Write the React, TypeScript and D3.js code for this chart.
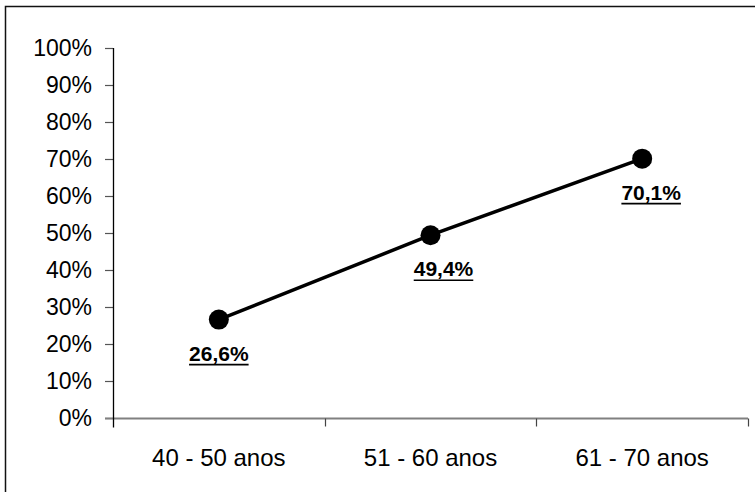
import {useEffect, useRef} from "react"
import * as d3 from "d3"

const categories = ["40 - 50 anos", "51 - 60 anos", "61 - 70 anos"]
const values = [26.6, 49.4, 70.1]
const valueLabels = ["26,6%", "49,4%", "70,1%"]
const yTicks = [0, 10, 20, 30, 40, 50, 60, 70, 80, 90, 100]

// small horizontal nudges of the data labels, as placed in the original
const labelDx = [0, 13, 9]

const W = 755
const H = 492
const margins = {left: 113, right: 7, top: 48, bottom: 74}

const App = () => {
  const ref = useRef<SVGSVGElement>(null)

  useEffect(() => {
    const svg = d3.select(ref.current)
    svg.selectAll("*").remove()

    const font = "'Liberation Sans', Arial, sans-serif"

    // outer frame (only top and left edges visible in the crop)
    svg
      .append("rect")
      .attr("x", 5.5)
      .attr("y", 6.5)
      .attr("width", W + 20)
      .attr("height", H + 20)
      .attr("fill", "white")
      .attr("stroke", "#111")
      .attr("stroke-width", 1.5)

    const x = d3
      .scaleBand()
      .domain(categories)
      .range([margins.left, W - margins.right])
    const y = d3
      .scaleLinear()
      .domain([0, 100])
      .range([H - margins.bottom, margins.top])

    const g = svg.append("g")

    // y ticks and labels
    for (const t of yTicks) {
      g.append("line")
        .attr("x1", margins.left - 8)
        .attr("x2", margins.left)
        .attr("y1", Math.round(y(t)) + 0.5)
        .attr("y2", Math.round(y(t)) + 0.5)
        .attr("stroke", "#555")
        .attr("stroke-width", 1.2)
      g.append("text")
        .attr("x", margins.left - 21)
        .attr("y", y(t))
        .attr("dy", "0.36em")
        .attr("text-anchor", "end")
        .attr("font-family", font)
        .attr("font-size", 23)
        .attr("fill", "#000")
        .text(t + "%")
    }

    // x axis (gray) with tick marks at category boundaries
    const base = Math.round(y(0)) + 0.5
    g.append("line")
      .attr("x1", margins.left - 8)
      .attr("x2", W - margins.right)
      .attr("y1", base)
      .attr("y2", base)
      .attr("stroke", "#808080")
      .attr("stroke-width", 1.8)
    const bounds = categories.map((c) => x(c) as number).concat([W - margins.right])
    for (const b of bounds.slice(1)) {
      g.append("line")
        .attr("x1", Math.round(b) + 0.5)
        .attr("x2", Math.round(b) + 0.5)
        .attr("y1", base)
        .attr("y2", base + 8)
        .attr("stroke", "#444")
        .attr("stroke-width", 1.2)
    }

    // y axis line
    g.append("line")
      .attr("x1", margins.left + 0.5)
      .attr("x2", margins.left + 0.5)
      .attr("y1", y(100))
      .attr("y2", base + 9)
      .attr("stroke", "#000")
      .attr("stroke-width", 1.3)

    // category labels
    g.selectAll("text.cat")
      .data(categories)
      .join("text")
      .attr("class", "cat")
      .attr("x", (d) => (x(d) as number) + x.bandwidth() / 2)
      .attr("y", 466)
      .attr("text-anchor", "middle")
      .attr("font-family", font)
      .attr("font-size", 24)
      .attr("fill", "#000")
      .text((d) => d)

    const cx = (i: number) => (x(categories[i]) as number) + x.bandwidth() / 2

    const line = d3
      .line<number>()
      .x((_, i) => cx(i))
      .y((d) => y(d))
    g.append("path")
      .datum(values)
      .attr("d", line)
      .attr("fill", "none")
      .attr("stroke", "#000")
      .attr("stroke-width", 3.5)

    g.selectAll("circle")
      .data(values)
      .join("circle")
      .attr("cx", (_, i) => cx(i))
      .attr("cy", (d) => y(d))
      .attr("r", 10)
      .attr("fill", "#000")

    // bold underlined value labels
    values.forEach((v, i) => {
      const lx = cx(i) + labelDx[i]
      const ly = y(v) + 41
      const txt = g
        .append("text")
        .attr("x", lx)
        .attr("y", ly)
        .attr("text-anchor", "middle")
        .attr("font-family", font)
        .attr("font-size", 21)
        .attr("font-weight", "bold")
        .attr("fill", "#000")
        .text(valueLabels[i])
      const w = (txt.node() as SVGTextElement).getComputedTextLength()
      g.append("line")
        .attr("x1", lx - w / 2)
        .attr("x2", lx + w / 2)
        .attr("y1", ly + 4)
        .attr("y2", ly + 4)
        .attr("stroke", "#000")
        .attr("stroke-width", 1.6)
    })
  }, [])

  return (
    <svg
      ref={ref}
      width={W}
      height={H}
      style={{position: "absolute", left: 0, top: 0, background: "white"}}
    />
  )
}

export default App
